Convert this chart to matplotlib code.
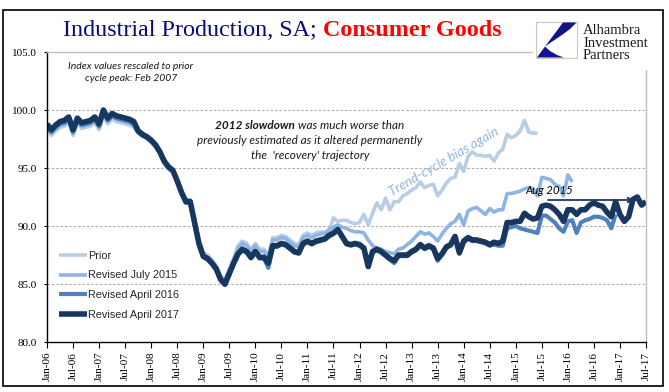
import matplotlib
matplotlib.use('Agg')
import matplotlib.pyplot as plt
from matplotlib.patches import Rectangle, Polygon
import numpy as np

# ---------------- data (monthly index values, Jan-06 onward) ----------------
tick_labels = ['Jan-06', 'Jul-06', 'Jan-07', 'Jul-07', 'Jan-08', 'Jul-08', 'Jan-09', 'Jul-09',
               'Jan-10', 'Jul-10', 'Jan-11', 'Jul-11', 'Jan-12', 'Jul-12', 'Jan-13', 'Jul-13',
               'Jan-14', 'Jul-14', 'Jan-15', 'Jul-15', 'Jan-16', 'Jul-16', 'Jan-17', 'Jul-17']

series_names = ['Prior', 'Revised July 2015', 'Revised April 2016', 'Revised April 2017']

prior = [98.3, 97.8, 98.2, 98.5, 98.6, 98.9, 97.8, 98.8, 98.4, 98.5, 98.6, 98.9, 98.3, 99.5,
         98.8, 99.2, 99.0, 98.9, 98.8, 98.7, 98.5,
         98.0, 97.7, 97.5, 97.2, 96.8, 96.2, 95.4, 94.9, 94.6, 93.7, 92.7,
         92.3, 92.3, 90.6, 88.8, 87.7, 87.5, 87.1, 86.6, 85.7,
         85.4, 86.3, 87.2,
         88.3, 88.7, 88.5, 88.0, 88.5, 88.0, 88.0, 87.5, 89.0, 89.0, 89.2, 89.1, 88.8, 88.5,
         88.4, 89.2, 89.4, 89.2, 89.4, 89.5,
         89.4, 89.6, 90.7, 90.4, 90.5, 90.5, 90.3, 90.2, 90.3, 91.0, 90.1, 91.1, 92.0, 91.4,
         92.4, 91.4, 92.1, 92.1, 92.6, 92.8, 93.1, 93.3, 93.8, 93.3, 93.5, 93.6, 92.6, 93.1,
         93.7, 94.1, 94.2, 95.4, 94.7, 96.0, 96.4, 96.1, 96.1, 96.0, 96.1, 95.6, 96.3, 96.6,
         97.9, 97.6, 97.8, 98.2, 99.1, 98.1, 98.0, 98.0]

rev_jul2015 = [98.5, 98.0, 98.4, 98.7, 98.8, 99.1, 98.0, 99.0, 98.6, 98.7, 98.8, 99.1, 98.5, 99.7,
               99.0, 99.4, 99.2, 99.1, 99.0, 98.9, 98.7,
               98.1, 97.8, 97.6, 97.3, 96.9, 96.3, 95.5, 95.0, 94.7, 93.8, 92.8,
               92.2, 92.2, 90.4, 88.6, 87.5, 87.3, 86.9, 86.4, 85.5,
               85.3, 86.2, 87.1,
               88.1, 88.5, 88.3, 87.8, 88.3, 87.8, 87.8, 87.3, 88.8, 88.8, 89.0, 88.9, 88.6, 88.3,
               88.2, 89.0, 89.2, 89.0, 89.2, 89.3, 89.4, 89.7,
               89.9, 90.1, 89.9, 89.8, 89.6, 89.5, 89.5, 89.4, 88.8, 88.3, 88.1, 88.0, 87.8, 87.7,
               87.6, 88.0, 88.1, 88.4, 88.7, 89.1, 89.5, 89.3, 89.4, 89.1, 88.7,
               89.3, 89.8, 90.2, 90.4, 91.0, 90.1, 91.3, 91.5, 91.6, 91.3, 91.0, 91.5, 91.2, 91.4,
               91.4, 92.8, 92.8, 92.9, 93.0, 93.2, 93.3, 93.2, 92.6, 94.2, 94.1, 94.0, 93.6, 93.4,
               92.6, 94.4, 93.8]

rev_apr2016 = [98.6, 98.1, 98.5, 98.8, 98.9, 99.2, 98.1, 99.1, 98.7, 98.8, 98.9, 99.2, 98.6, 99.8,
               99.1, 99.5, 99.3, 99.2, 99.1, 99.0, 98.8,
               98.1, 97.8, 97.6, 97.3, 96.9, 96.3, 95.5, 95.0, 94.7, 93.8, 92.8, 92.0, 92.0, 90.2,
               88.4, 87.3, 87.1, 86.7, 86.2, 85.3,
               84.9, 85.8, 86.7, 87.5, 87.9, 87.7, 87.2, 87.7, 87.2, 87.2, 86.4, 88.2, 88.2, 88.4,
               88.3, 88.0, 87.7, 87.6, 88.4, 88.6, 88.4, 88.6, 88.7,
               88.8, 89.1, 89.3, 89.6, 89.0, 88.4, 88.3, 88.4, 88.3, 88.0, 86.6, 87.7, 87.9, 87.7,
               87.4, 87.1, 86.8, 87.4, 87.4, 87.4, 87.7, 87.9, 88.3, 88.0, 88.2, 88.0, 87.0, 87.5,
               88.1, 88.3, 89.0, 87.6, 88.6, 88.9, 88.7, 88.7, 88.6, 88.5, 88.3, 88.4, 88.3, 88.3,
               89.8, 89.9, 90.0, 89.8, 89.7, 89.6, 89.5, 89.4, 90.9, 90.9, 90.6, 90.3, 89.8, 89.5,
               90.4, 90.5, 89.4, 90.3, 90.5, 90.6, 90.8, 90.8, 90.7, 90.5, 89.8, 91.0]

rev_apr2017 = [98.8, 98.3, 98.7, 99.0, 99.1, 99.4, 98.3, 99.3, 98.9, 99.0, 99.1, 99.4, 98.8, 100.0,
               99.3, 99.7, 99.5, 99.4, 99.3, 99.2, 99.0,
               98.2, 97.9, 97.7, 97.4, 97.0, 96.4, 95.6, 95.1, 94.8, 93.9, 92.9, 92.1, 92.1, 90.3,
               88.5, 87.4, 87.2, 86.8, 86.3, 85.4,
               85.0, 85.9, 86.8, 87.6, 88.0, 87.8, 87.3, 87.8, 87.3, 87.3, 86.8, 88.3, 88.3, 88.5,
               88.4, 88.1, 87.8, 87.7, 88.5, 88.7, 88.5, 88.7, 88.8,
               88.9, 89.2, 89.4, 89.7, 89.1, 88.5, 88.4, 88.5, 88.4, 88.1, 86.5, 87.8, 88.0, 87.8,
               87.5, 87.2, 87.0, 87.5, 87.5, 87.5, 87.8, 88.0, 88.4, 88.1, 88.3, 88.1, 87.2, 87.6,
               88.2, 88.4, 89.1, 87.7, 88.7, 89.0, 88.8, 88.8, 88.7, 88.6, 88.4, 88.6, 88.5, 88.7,
               90.3, 90.3, 90.4, 90.4, 91.1, 90.8, 90.6, 90.7, 91.7, 91.8, 91.7, 91.4, 91.0, 90.4,
               91.4, 91.4, 91.0, 91.4, 91.4, 91.8, 92.0, 91.8, 91.7, 91.2, 90.8, 92.1, 91.0, 90.4,
               90.8, 92.3, 92.5, 91.8, 92.1]

series = [prior, rev_jul2015, rev_apr2016, rev_apr2017]
colors = ['#b9cde5', '#8db4e2', '#4f81bd', '#17375e']
widths = [2.6, 2.6, 3.0, 4.0]

# ---------------- figure ----------------
W, H, DPI = 669, 392, 100
fig = plt.figure(figsize=(W / DPI, H / DPI), dpi=DPI)
fig.patch.set_facecolor('white')


def fx(px):
    return px / W


def fy(py):
    return 1 - py / H


SERIF = 'Liberation Serif'
ITAL = 'Lato'

ax = fig.add_axes([fx(47), fy(342), (646 - 47) / W, (342 - 52) / H])

for name, vals, c, lw in zip(series_names, series, colors, widths):
    ax.plot(np.arange(len(vals)), vals, color=c, lw=lw, label=name,
            solid_joinstyle='round', solid_capstyle='butt')

ax.set_xlim(0, 6 * (len(tick_labels) - 1))
ax.set_ylim(80, 105)
ax.set_xticks(np.arange(len(tick_labels)) * 6)
ax.set_xticklabels(tick_labels, rotation=90, fontfamily=SERIF, fontsize=8)
yt = [80, 85, 90, 95, 100, 105]
ax.set_yticks(yt)
ax.set_yticklabels(['%.1f' % v for v in yt], fontfamily=SERIF, fontsize=8)
ax.tick_params(axis='x', length=4, width=0.8, pad=3, direction='out')
ax.tick_params(axis='y', length=2.5, width=0.8, pad=5, direction='out')

for v in [85, 90, 95, 100]:
    ax.axhline(v, color='#a6a6a6', lw=0.7, ls=(0, (2.5, 2)), zorder=0)

ax.spines['left'].set_color('black')
ax.spines['bottom'].set_color('black')
ax.spines['top'].set_color('#bfbfbf')
ax.spines['right'].set_color('#bfbfbf')
for s in ax.spines.values():
    s.set_linewidth(1.0)

leg = ax.legend(loc='upper left', bbox_to_anchor=(0.02, 0.315), frameon=False,
                prop={'family': 'Liberation Sans', 'size': 7.8}, handlelength=2.6,
                handletextpad=0.1, labelspacing=0.9, borderpad=0, borderaxespad=0)
for t in leg.get_texts():
    t.set_color('#262626')

# ---------------- annotations ----------------
def mx(px):
    return (px - 47) / (599 / 138)


def vy(py):
    return 105 - (py - 52) / 11.6


ax.text(mx(131), vy(72.5), 'Index values rescaled to prior\ncycle peak: Feb 2007',
        ha='center', va='center', fontfamily=ITAL, style='italic', fontsize=7.5,
        color='#1a1a1a', linespacing=1.4)

ax.text(mx(444), vy(162), 'Trend-cycle bias again', ha='center', va='center',
        rotation=30, rotation_mode='anchor', fontfamily=ITAL, style='italic',
        fontsize=9.6, color='#8db4e2')

ax.text(mx(549.5), vy(191), 'Aug 2015', ha='center', va='center', fontfamily=ITAL,
        style='italic', fontsize=8.2, color='black')
ax.annotate('', xy=(mx(634), vy(200)), xytext=(mx(548), vy(200)),
            arrowprops=dict(arrowstyle='->', color='#1f3864', lw=1.3,
                            shrinkA=0, shrinkB=0, mutation_scale=8))

renderer = fig.canvas.get_renderer()


def seg_line(xc, ypx, segments, size, gap_em=0.27):
    texts = []
    for s, kw in segments:
        t = fig.text(0, fy(ypx), s, ha='left', va='baseline', fontsize=size, **kw)
        texts.append(t)
    ws = [t.get_window_extent(renderer).width for t in texts]
    gap = gap_em * size * DPI / 72
    total = sum(ws) + gap * (len(ws) - 1)
    x = xc - total / 2
    for t, w in zip(texts, ws):
        t.set_x(fx(x))
        x += w + gap
    return texts


it = dict(fontfamily=ITAL, style='italic', color='#1a1a1a')
itb = dict(fontfamily=ITAL, style='italic', fontweight='bold', color='#1a1a1a')
seg_line(310, 129, [('2012 slowdown', itb), ('was much worse than', it)], 8.5)
seg_line(310, 144, [('previously estimated as it altered permanently', it)], 8.5)
seg_line(310, 159, [("the  'recovery' trajectory", it)], 8.5)

# title
t1 = fig.text(fx(63), fy(36), 'Industrial Production, SA;', ha='left', va='baseline',
              fontfamily=SERIF, fontsize=17.4, color='#0a0a80')
w1 = t1.get_window_extent(renderer).width
fig.text(fx(63 + w1 + 6), fy(36), 'Consumer Goods', ha='left', va='baseline',
         fontfamily=SERIF, fontsize=17.4, fontweight='bold', color='#ff0000')

# ---------------- overlay: frame and logo ----------------
ov = fig.add_axes([0, 0, 1, 1], zorder=10)
ov.set_xlim(0, W)
ov.set_ylim(H, 0)
ov.axis('off')
ov.patch.set_alpha(0)

ov.add_patch(Rectangle((3, 10), 660, 376, fill=False, ec='black', lw=1.2))
ov.add_patch(Rectangle((533, 13), 128, 57, fc='white', ec='none'))
ov.add_patch(Rectangle((536, 22), 41, 36, fc='white', ec='#c8c8c8', lw=0.8))
ov.add_patch(Polygon([(563, 22.5), (576.5, 22.5), (570, 29), (562, 35), (553, 41), (545, 46.5)],
                     closed=True, fc='#12128c', ec='none'))
ov.add_patch(Polygon([(545, 46.5), (537, 57.5), (564, 57.5), (557, 55), (550, 51)],
                     closed=True, fc='#12128c', ec='none'))
for txt, yy in [('Alhambra', 30), ('Investment', 43), ('Partners', 55.5)]:
    ov.text(583, yy, txt, ha='left', va='center', fontfamily=SERIF, fontsize=10.5,
            color='#1a1a1a')

fig.savefig('out.png', dpi=DPI)
